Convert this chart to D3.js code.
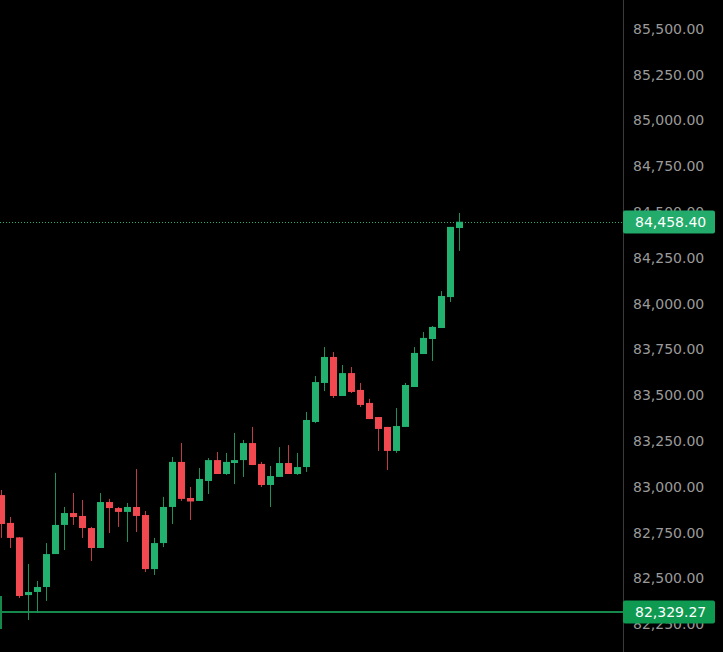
<!DOCTYPE html>
<html>
<head>
<meta charset="utf-8">
<script src="https://cdn.jsdelivr.net/npm/d3@7"></script>
<style>
  html, body { margin: 0; padding: 0; background: #000; }
  svg { display: block; }
</style>
</head>
<body>
<div id="chart"></div>
<script>
// candle data (oldest first)
const opens = [
  82966, 82814, 82735, 82420, 82437, 82464, 82644, 82803, 82868, 82852,
  82786, 82677, 82928, 82895, 82874, 82901, 82857, 82562, 82704, 82901,
  83147, 82950, 82934, 83043, 83157, 83081, 83141, 83157, 83250, 83136,
  83021, 83065, 83141, 83081, 83119, 83365, 83578, 83720, 83507, 83632,
  83540, 83469, 83392, 83338, 83207, 83338, 83556, 83736, 83818, 83878,
  84047, 84424
]
const highs = [
  82994, 82846, 82737, 82590, 82497, 82704, 83087, 82901, 82977, 82939,
  82792, 82977, 82945, 82901, 82923, 83108, 82879, 82732, 82956, 83174,
  83250, 83010, 83114, 83168, 83201, 83196, 83305, 83267, 83338, 83147,
  83125, 83228, 83239, 83196, 83420, 83616, 83774, 83747, 83676, 83665,
  83578, 83491, 83392, 83338, 83441, 83578, 83774, 83856, 83889, 84080,
  84430, 84506
]
const lows = [
  82732, 82677, 82404, 82284, 82322, 82388, 82644, 82666, 82803, 82732,
  82606, 82677, 82759, 82792, 82710, 82764, 82546, 82530, 82682, 82808,
  82934, 82830, 82934, 82972, 83081, 83076, 83026, 83065, 83130, 83010,
  82901, 83065, 83081, 83076, 83092, 83359, 83534, 83496, 83507, 83523,
  83447, 83381, 83207, 83103, 83196, 83338, 83556, 83736, 83698, 83878,
  84020, 84299
]
const closes = [
  82808, 82732, 82415, 82437, 82464, 82644, 82803, 82868, 82846, 82786,
  82677, 82928, 82895, 82874, 82901, 82852, 82562, 82704, 82901, 83147,
  82945, 82931, 83054, 83157, 83081, 83147, 83157, 83250, 83130, 83021,
  83070, 83141, 83081, 83119, 83376, 83583, 83720, 83507, 83632, 83529,
  83458, 83381, 83327, 83207, 83343, 83567, 83742, 83824, 83884, 84053,
  84430, 84458.40
]

const lastPrice = 84458.40
const linePrice = 82329.27
const priceTicks = [82250, 82500, 82750, 83000, 83250, 83500, 83750, 84000, 84250, 84500, 84750, 85000, 85250, 85500]

// visible price range of the pane
const priceTop = 85668.75
const priceBottom = 82109.3

const width = 723
const height = 652
const axisX = 623

const upColor = '#22b16e'
const downColor = '#f24850'
const upWick = '#1f8f5c'
const downWick = '#c03c45'

const candles = opens.map((o, i) => ({
  i: i,
  open: o,
  high: highs[i],
  low: lows[i],
  close: closes[i]
}))

const svg = d3.select('#chart')
  .append('svg')
  .attr('width', width)
  .attr('height', height)
  .style('background', '#000')
  .style('font-family', '"DejaVu Sans", sans-serif')

const y = d3.scaleLinear()
  .domain([priceBottom, priceTop])
  .range([height, 0])

const x = d3.scaleLinear()
  .domain([0, candles.length - 1])
  .range([1, 459])

const bodyW = 7
const fmt = d3.format(',.2f')

// price axis labels
svg.append('g')
  .selectAll('text')
  .data(priceTicks)
  .join('text')
  .attr('x', 633)
  .attr('y', d => y(d) - 2)
  .attr('dy', '0.35em')
  .attr('fill', '#9a9a9a')
  .attr('font-size', 14)
  .text(d => fmt(d))

// axis separator
svg.append('line')
  .attr('x1', axisX + 0.5)
  .attr('x2', axisX + 0.5)
  .attr('y1', 0)
  .attr('y2', height)
  .attr('stroke', '#3a3a3a')

// horizontal price line
const ly = Math.round(y(linePrice))
svg.append('line')
  .attr('x1', 0)
  .attr('x2', axisX)
  .attr('y1', ly)
  .attr('y2', ly)
  .attr('stroke', '#16884c')
  .attr('stroke-width', 2)
svg.append('line')
  .attr('x1', 1)
  .attr('x2', 1)
  .attr('y1', ly - 16)
  .attr('y2', ly + 17)
  .attr('stroke', '#16884c')
  .attr('stroke-width', 2)

// last price dotted line
const py = Math.round(y(lastPrice)) + 0.5
svg.append('line')
  .attr('x1', 0)
  .attr('x2', axisX)
  .attr('y1', py)
  .attr('y2', py)
  .attr('stroke', upColor)
  .attr('stroke-dasharray', '1,2')

// candles
const g = svg.append('g')
g.selectAll('line.wick')
  .data(candles)
  .join('line')
  .attr('class', 'wick')
  .attr('x1', d => Math.round(x(d.i)) + 0.5)
  .attr('x2', d => Math.round(x(d.i)) + 0.5)
  .attr('y1', d => y(d.high))
  .attr('y2', d => y(d.low))
  .attr('stroke', d => d.close >= d.open ? upWick : downWick)

g.selectAll('rect.body')
  .data(candles)
  .join('rect')
  .attr('class', 'body')
  .attr('x', d => Math.round(x(d.i)) - 3)
  .attr('width', bodyW)
  .attr('y', d => y(Math.max(d.open, d.close)))
  .attr('height', d => Math.max(1, y(Math.min(d.open, d.close)) - y(Math.max(d.open, d.close))))
  .attr('fill', d => d.close >= d.open ? upColor : downColor)

// axis price badges
const badges = [
  { price: lastPrice, fill: '#22ab6a' },
  { price: linePrice, fill: '#0f9a52' }
]
const badge = svg.append('g')
  .selectAll('g')
  .data(badges)
  .join('g')
  .attr('transform', d => `translate(${axisX},${Math.round(y(d.price))})`)
badge.append('rect')
  .attr('x', 0)
  .attr('y', -11.5)
  .attr('width', 92)
  .attr('height', 23)
  .attr('rx', 2)
  .attr('fill', d => d.fill)
badge.append('text')
  .attr('x', 12)
  .attr('y', 0)
  .attr('dy', '0.35em')
  .attr('fill', '#fff')
  .attr('font-size', 14)
  .text(d => fmt(d.price))
</script>
</body>
</html>
